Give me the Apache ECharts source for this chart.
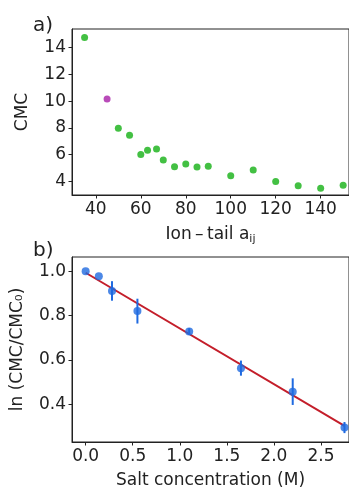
<!DOCTYPE html>
<html>
<head>
<meta charset="utf-8">
<script src="https://cdn.jsdelivr.net/npm/echarts@6/dist/echarts.min.js"></script>
<style>
  html, body { margin: 0; padding: 0; background: #fff; }
  #chart { width: 349px; height: 490px; }
</style>
</head>
<body>
<div id="chart"></div>
<script>
// panel a: CMC vs ion-tail repulsion
const aijValues = [35, 45, 50, 55, 60, 63, 67, 70, 75, 80, 85, 90, 100, 110, 120, 130, 140, 150];
const cmcValues = [14.75, 10.15, 7.98, 7.45, 6.02, 6.33, 6.43, 5.6, 5.1, 5.3, 5.08, 5.13, 4.43, 4.86, 4.0, 3.68, 3.5, 3.72];
const highlightIndex = 1; // the magenta point

// panel b: ln(CMC/CMC0) vs salt concentration
const saltConc = [0, 0.14, 0.28, 0.55, 1.1, 1.65, 2.2, 2.75];
const lnRatio = [1.0, 0.977, 0.911, 0.82, 0.728, 0.563, 0.457, 0.295];
const lnErr = [0, 0, 0.044, 0.056, 0.015, 0.034, 0.06, 0.025];
const fitX = [0, 2.75];
const fitY = [0.993, 0.303];

const aXTicks = [40, 60, 80, 100, 120, 140];
const aYTicks = [4, 6, 8, 10, 12, 14];
const bXTicks = [0, 0.5, 1.0, 1.5, 2.0, 2.5];
const bYTicks = [0.4, 0.6, 0.8, 1.0];

const FONT = "DejaVu Sans";
const GREEN = "#14b014";
const MAGENTA = "#a81ea8";
const BLUE = "#1f6ae0";
const RED = "#c41e2a";
const INK = "#222";

const chart = echarts.init(document.getElementById("chart"), null, { renderer: "canvas" });

function axisCommon(ticks, fmt) {
  return {
    axisLine: { show: true, onZero: false, lineStyle: { color: INK, width: 1 } },
    axisTick: { show: true, customValues: ticks, length: 3.5, lineStyle: { color: INK } },
    axisLabel: {
      customValues: ticks,
      color: INK, fontFamily: FONT, fontSize: 17, margin: 6,
      formatter: fmt
    },
    splitLine: { show: false },
    nameTextStyle: { color: INK, fontFamily: FONT, fontSize: 17 }
  };
}

const oneDec = v => Number(v).toFixed(1);

chart.setOption({
  backgroundColor: "#fff",
  animation: false,
  title: [
    { text: "a)", left: 28, top: 11, textStyle: { fontFamily: FONT, fontSize: 20, fontWeight: "normal", color: INK } },
    { text: "b)", left: 28, top: 236, textStyle: { fontFamily: FONT, fontSize: 20, fontWeight: "normal", color: INK } }
  ],
  grid: [
    { left: 72, top: 29, width: 279, height: 166, show: true, borderColor: INK, borderWidth: 1, backgroundColor: "transparent" },
    { left: 72, top: 257, width: 279, height: 187, show: true, borderColor: INK, borderWidth: 1, backgroundColor: "transparent" }
  ],
  xAxis: [
    Object.assign(axisCommon(aXTicks, v => String(v)), {
      type: "value", gridIndex: 0, min: 29.4, max: 152.6,
      name: "Ion\u2009\u2013\u2009tail a{sub|ij}", nameLocation: "middle", nameGap: 30,
      nameTextStyle: {
        color: INK, fontFamily: FONT, fontSize: 17,
        rich: { sub: { fontFamily: FONT, fontSize: 11, color: INK, padding: [9, 0, 0, 0] } }
      }
    }),
    Object.assign(axisCommon(bXTicks, oneDec), {
      type: "value", gridIndex: 1, min: -0.145, max: 2.798,
      name: "Salt concentration (M)", nameLocation: "middle", nameGap: 30
    })
  ],
  yAxis: [
    Object.assign(axisCommon(aYTicks, v => String(v)), {
      type: "value", gridIndex: 0, min: 2.99, max: 15.38,
      name: "CMC", nameLocation: "middle", nameGap: 41
    }),
    Object.assign(axisCommon(bYTicks, oneDec), {
      type: "value", gridIndex: 1, min: 0.23, max: 1.064,
      name: "ln (CMC/CMC\u2080)", nameLocation: "middle", nameGap: 46
    })
  ],
  series: [
    {
      type: "scatter", xAxisIndex: 0, yAxisIndex: 0, symbolSize: 7,
      data: aijValues.map((x, i) => ({
        value: [x, cmcValues[i]],
        itemStyle: { color: i === highlightIndex ? MAGENTA : GREEN }
      })),
      itemStyle: { color: GREEN },
      clip: false
    },
    {
      type: "line", xAxisIndex: 1, yAxisIndex: 1, showSymbol: false, symbol: "none",
      lineStyle: { color: RED, width: 2 },
      data: fitX.map((x, i) => [x, fitY[i]]),
      z: 2
    },
    {
      type: "custom", xAxisIndex: 1, yAxisIndex: 1, z: 3,
      data: saltConc.map((x, i) => [x, lnRatio[i] - lnErr[i], lnRatio[i] + lnErr[i]]),
      renderItem: (params, api) => {
        const lo = api.coord([api.value(0), api.value(1)]);
        const hi = api.coord([api.value(0), api.value(2)]);
        return {
          type: "line",
          shape: { x1: lo[0], y1: lo[1], x2: hi[0], y2: hi[1] },
          style: { stroke: BLUE, lineWidth: 2 }
        };
      }
    },
    {
      type: "scatter", xAxisIndex: 1, yAxisIndex: 1, symbolSize: 8, z: 4,
      itemStyle: { color: BLUE },
      data: saltConc.map((x, i) => [x, lnRatio[i]]),
      clip: false
    }
  ]
});
</script>
</body>
</html>
